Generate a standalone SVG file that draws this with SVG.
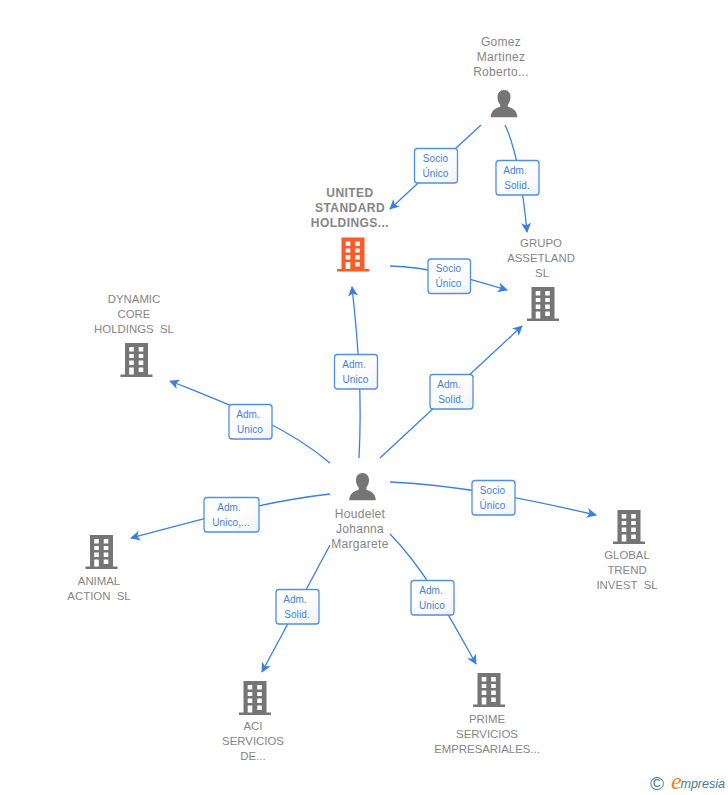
<svg xmlns="http://www.w3.org/2000/svg" width="728" height="795" viewBox="0 0 728 795">
<style>
.lbl{font:11.400px "Liberation Sans",Arial,sans-serif;fill:#858585;text-anchor:middle;white-space:pre}
.m{font-size:12px;letter-spacing:.3px}
.b{font-weight:bold;font-size:12px;letter-spacing:.45px}
.e{font:10px "Liberation Sans",Arial,sans-serif;fill:#3f7fdc;text-anchor:middle;letter-spacing:.1px}
.box{fill:url(#g);stroke:#4f8fe6;stroke-width:1.3}
.c{fill:none;stroke:#3a80e0;stroke-width:1.3;marker-end:url(#a)}
</style>
<defs>
<linearGradient id="g" x1="0" y1="0" x2="1" y2="1"><stop offset="0.5" stop-color="#fff"/><stop offset="1" stop-color="#f1f1f1"/></linearGradient>
<marker id="a" viewBox="0 0 12 12" refX="10" refY="6" markerWidth="11" markerHeight="11" markerUnits="userSpaceOnUse" orient="auto"><path d="M0 .5 L11 6 L0 11.500 L3 6Z" fill="#3a80e0"/></marker>
<path id="bld" fill-rule="evenodd" d="M-11.500 0H11.500V31.500H16V34H-16V31.500H-11.500ZM-7.300 4V8.600H-2.700V4ZM2.200 4V8.600H6.800V4ZM-7.300 11V15H-2.700V11ZM2.200 11V15H6.800V11ZM-7.300 17.500V22H-2.700V17.500ZM2.200 17.500V22H6.800V17.500ZM-7.300 24.500V31.500H-2.700V24.500ZM2.200 24.500V29H6.800V24.500Z"/>
<path id="per" d="M0 0C4 0 6.500 3 6.500 7C6.500 10 5.500 12.500 3.800 14.500V16.500C7 18.500 13 19 13.300 27.300H-13.300C-13 19 -7 18.500 -3.800 16.500V14.500C-5.500 12.500 -6.500 10 -6.500 7C-6.500 3 -4 0 0 0Z" fill="#757575"/>
</defs>
<g id="connectors">
<path class="c" d="M481 125L390 209"/>
<path class="c" d="M505 125C517 150 523 190 527 232"/>
<path class="c" d="M390 266C430 267 470 279 507 290"/>
<path class="c" d="M359 458C362 400 359 350 352 287"/>
<path class="c" d="M380 458L522 326"/>
<path class="c" d="M330 463C285 425 230 405 170 381"/>
<path class="c" d="M330 494C260 502 200 520 131 538"/>
<path class="c" d="M390 482C460 485 530 500 596 515"/>
<path class="c" d="M330 545L262 672"/>
<path class="c" d="M390 534C425 570 447 612 476 664"/>
</g>
<g id="edge-labels">
<g><rect class="box" x="414.500" y="148.500" width="43" height="34.500" rx="3"/><text class="e" x="435.500" y="162">Socio</text><text class="e" x="435.500" y="177">Único</text></g>
<g><rect class="box" x="496" y="160.500" width="43" height="34.500" rx="3"/><text class="e" x="515" y="174">Adm.</text><text class="e" x="517" y="189">Solid.</text></g>
<g><rect class="box" x="428" y="259" width="42.500" height="34.500" rx="3"/><text class="e" x="448.500" y="272">Socio</text><text class="e" x="448.500" y="287">Único</text></g>
<g><rect class="box" x="334.500" y="354.500" width="43" height="34.500" rx="3"/><text class="e" x="354" y="368">Adm.</text><text class="e" x="355.500" y="383">Unico</text></g>
<g><rect class="box" x="430" y="374.500" width="43" height="34.500" rx="3"/><text class="e" x="449" y="388">Adm.</text><text class="e" x="451" y="403">Solid.</text></g>
<g><rect class="box" x="229" y="404.500" width="43" height="34.500" rx="3"/><text class="e" x="248" y="418">Adm.</text><text class="e" x="250" y="433">Unico</text></g>
<g><rect class="box" x="204" y="497.500" width="55" height="34.500" rx="3"/><text class="e" x="229" y="511">Adm.</text><text class="e" x="231" y="526">Unico,...</text></g>
<g><rect class="box" x="472" y="480.500" width="43" height="34.500" rx="3"/><text class="e" x="492.500" y="494">Socio</text><text class="e" x="492.500" y="509">Único</text></g>
<g><rect class="box" x="276" y="589.500" width="43" height="34.500" rx="3"/><text class="e" x="295" y="603">Adm.</text><text class="e" x="297" y="618">Solid.</text></g>
<g><rect class="box" x="411" y="580.500" width="43" height="34.500" rx="3"/><text class="e" x="431" y="594">Adm.</text><text class="e" x="432" y="609">Unico</text></g>
</g>
<g id="gomez"><use href="#per" x="504" y="90"/><text class="lbl m" x="501" y="46">Gomez</text><text class="lbl m" x="501" y="61">Martinez</text><text class="lbl m" x="501" y="76">Roberto...</text></g>
<g id="united"><use href="#bld" x="353" y="237.500" fill="#ff5a26"/><text class="lbl b" x="350" y="197">UNITED</text><text class="lbl b" x="350" y="212">STANDARD</text><text class="lbl b" x="350" y="227">HOLDINGS...</text></g>
<g id="grupo"><use href="#bld" x="543" y="287" fill="#757575"/><text class="lbl" x="541" y="247">GRUPO</text><text class="lbl" x="541" y="262">ASSETLAND</text><text class="lbl" x="542" y="277">SL</text></g>
<g id="dynamic"><use href="#bld" x="136.500" y="343" fill="#757575"/><text class="lbl" x="134" y="303">DYNAMIC</text><text class="lbl" x="134" y="318">CORE</text><text class="lbl" x="134" y="333">HOLDINGS  SL</text></g>
<g id="houdelet"><use href="#per" x="362.500" y="473"/><text class="lbl m" x="360" y="518">Houdelet</text><text class="lbl m" x="360" y="533">Johanna</text><text class="lbl m" x="360" y="548">Margarete</text></g>
<g id="animal"><use href="#bld" x="101.500" y="535" fill="#757575"/><text class="lbl" x="99" y="585">ANIMAL</text><text class="lbl" x="99" y="600">ACTION  SL</text></g>
<g id="global"><use href="#bld" x="629" y="510" fill="#757575"/><text class="lbl" x="627" y="559">GLOBAL</text><text class="lbl" x="627" y="574">TREND</text><text class="lbl" x="627" y="589">INVEST  SL</text></g>
<g id="aci"><use href="#bld" x="255" y="681" fill="#757575"/><text class="lbl" x="253" y="730">ACI</text><text class="lbl" x="253" y="745">SERVICIOS</text><text class="lbl" x="253" y="760">DE...</text></g>
<g id="prime"><use href="#bld" x="489" y="673" fill="#757575"/><text class="lbl" x="487" y="723">PRIME</text><text class="lbl" x="487" y="738">SERVICIOS</text><text class="lbl" x="487" y="753">EMPRESARIALES...</text></g>
<g id="logo"><text x="650" y="790" font-family="'Liberation Sans',sans-serif" font-size="19" fill="#3f7d93">©</text><text x="671" y="789" font-family="'Liberation Serif',serif" font-style="italic" font-size="24" fill="#f08020">e</text><text x="680.500" y="788" font-family="'Liberation Sans',sans-serif" font-style="italic" font-size="12.500" fill="#3f7d93">mpresia</text></g>
</svg>
